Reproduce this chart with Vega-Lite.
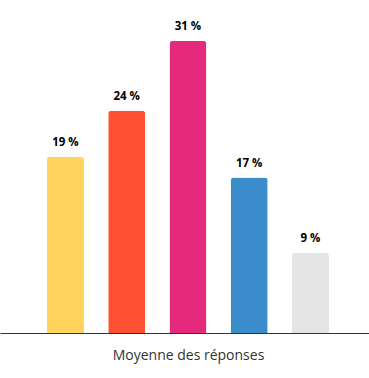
{
  "$schema": "https://vega.github.io/schema/vega-lite/v6.json",
  "width": 369,
  "height": 333,
  "padding": {"left": 0, "right": 0, "top": 0, "bottom": 45},
  "autosize": {"type": "none"},
  "background": "white",
  "config": {"view": {"stroke": null}, "font": "Open Sans"},
  "data": {"values": [
    {"cat": "A", "value": 18.7, "label": "19 %", "color": "#FFD45C"},
    {"cat": "B", "value": 23.6, "label": "24 %", "color": "#FF5033"},
    {"cat": "C", "value": 31.0, "label": "31 %", "color": "#E52A7B"},
    {"cat": "D", "value": 16.5, "label": "17 %", "color": "#3A8DCA"},
    {"cat": "E", "value": 8.5, "label": "9 %", "color": "#E5E5E5"}
  ]},
  "encoding": {
    "x": {
      "field": "cat", "type": "nominal", "sort": null,
      "scale": {"paddingInner": 0.396, "paddingOuter": 0.71, "align": 0.54},
      "axis": {
        "title": "Moyenne des réponses",
        "labels": false, "ticks": false,
        "domainColor": "#333333", "domainWidth": 1,
        "titleFont": "Open Sans", "titleFontSize": 14, "titleFontWeight": "normal",
        "titleColor": "#333333", "titleX": 188, "titleY": 26, "titleBaseline": "alphabetic"
      }
    },
    "y": {
      "field": "value", "type": "quantitative",
      "scale": {"domain": [0, 35.35], "nice": false},
      "axis": null
    }
  },
  "layer": [
    {
      "mark": {"type": "bar", "cornerRadiusTopLeft": 3, "cornerRadiusTopRight": 3},
      "encoding": {"color": {"field": "color", "type": "nominal", "scale": null}}
    },
    {
      "mark": {"type": "text", "baseline": "bottom", "dy": -9, "fontSize": 11.5, "fontWeight": "bold", "color": "#000000", "font": "Open Sans"},
      "encoding": {"text": {"field": "label"}}
    }
  ]
}
